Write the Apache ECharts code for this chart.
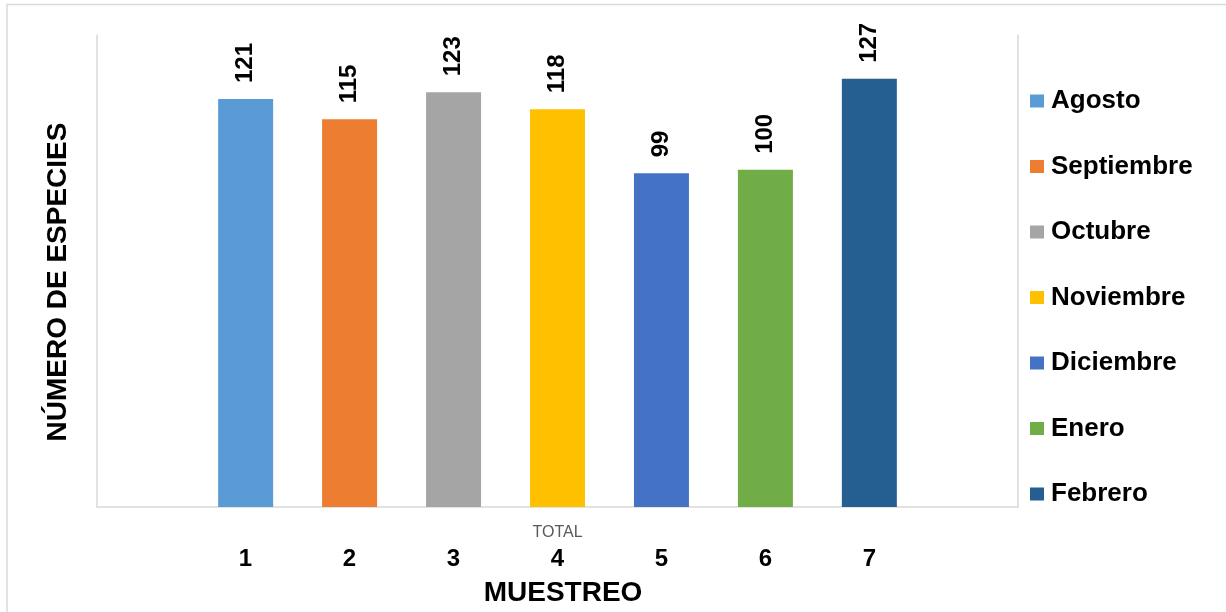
<!DOCTYPE html>
<html>
<head>
<meta charset="utf-8">
<script src="https://cdn.jsdelivr.net/npm/echarts@6/dist/echarts.min.js"></script>
<style>
  html, body { margin: 0; padding: 0; background: #fff; }
  #chart { width: 1226px; height: 612px; }
</style>
</head>
<body>
<div id="chart"></div>
<script>
// datos del gráfico
var categorias = ['TOTAL'];
var meses = ['Agosto', 'Septiembre', 'Octubre', 'Noviembre', 'Diciembre', 'Enero', 'Febrero'];
var especies = [121, 115, 123, 118, 99, 100, 127];
var muestreos = [1, 2, 3, 4, 5, 6, 7];
var colores = ['#5B9BD5', '#ED7D31', '#A5A5A5', '#FFC000', '#4472C4', '#70AD47', '#255E91'];

var fuente = 'Liberation Sans, Arial, sans-serif';
var chart = echarts.init(document.getElementById('chart'));

var series = meses.map(function (mes, i) {
  return {
    name: mes,
    type: 'bar',
    xAxisIndex: 0,
    yAxisIndex: 0,
    barWidth: 55,
    barGap: '89%',
    itemStyle: { color: colores[i] },
    label: {
      show: true,
      position: 'top',
      distance: 16,
      rotate: 90,
      align: 'left',
      verticalAlign: 'middle',
      fontFamily: fuente,
      fontWeight: 'bold',
      fontSize: 24,
      color: '#000'
    },
    data: [especies[i]]
  };
});

var option = {
  animation: false,
  backgroundColor: '#fff',
  graphic: [{
    type: 'rect',
    shape: { x: 7, y: 4.5, width: 1240, height: 640 },
    style: { fill: 'none', stroke: '#d9d9d9', lineWidth: 1.5 },
    silent: true
  }],
  grid: { left: 97, right: 208, top: 35, bottom: 100 },
  legend: {
    orient: 'vertical',
    left: 1030,
    top: 88,
    padding: 0,
    itemWidth: 14,
    itemHeight: 13,
    itemGap: 39.5,
    icon: 'rect',
    textStyle: { fontFamily: fuente, fontWeight: 'bold', fontSize: 26, lineHeight: 26, color: '#000', padding: [0, 0, 0, 2] },
    data: meses
  },
  xAxis: [{
    type: 'category',
    data: categorias,
    axisLine: { lineStyle: { color: '#d9d9d9', width: 1.5 } },
    axisTick: { show: false },
    axisLabel: { margin: 18, fontFamily: fuente, fontSize: 16, color: '#595959' }
  }, {
    type: 'value',
    position: 'bottom',
    min: -0.428,
    max: 8.428,
    axisLine: { show: false },
    axisTick: { show: false },
    splitLine: { show: false },
    axisLabel: {
      customValues: muestreos,
      margin: 40,
      fontFamily: fuente,
      fontWeight: 'bold',
      fontSize: 24,
      color: '#000'
    },
    name: 'MUESTREO',
    nameLocation: 'middle',
    nameGap: 72,
    nameTextStyle: { fontFamily: fuente, fontWeight: 'bold', fontSize: 28, color: '#000', padding: [0, 0, 0, 11] }
  }],
  yAxis: [{
    type: 'value',
    min: 0,
    max: 140,
    axisLine: { show: true, onZero: false, lineStyle: { color: '#d9d9d9', width: 1.5 } },
    axisTick: { show: false },
    axisLabel: { show: false },
    splitLine: { show: false },
    name: 'NÚMERO DE ESPECIES',
    nameLocation: 'middle',
    nameRotate: 90,
    nameGap: 25,
    nameTextStyle: { fontFamily: fuente, fontWeight: 'bold', fontSize: 28, color: '#000', padding: [0, 22, 0, 0] }
  }, {
    type: 'value',
    position: 'right',
    min: 0,
    max: 140,
    axisLine: { show: true, onZero: false, lineStyle: { color: '#d9d9d9', width: 1.5 } },
    axisTick: { show: false },
    axisLabel: { show: false },
    splitLine: { show: false }
  }],
  series: series
};

chart.setOption(option);
</script>
</body>
</html>
